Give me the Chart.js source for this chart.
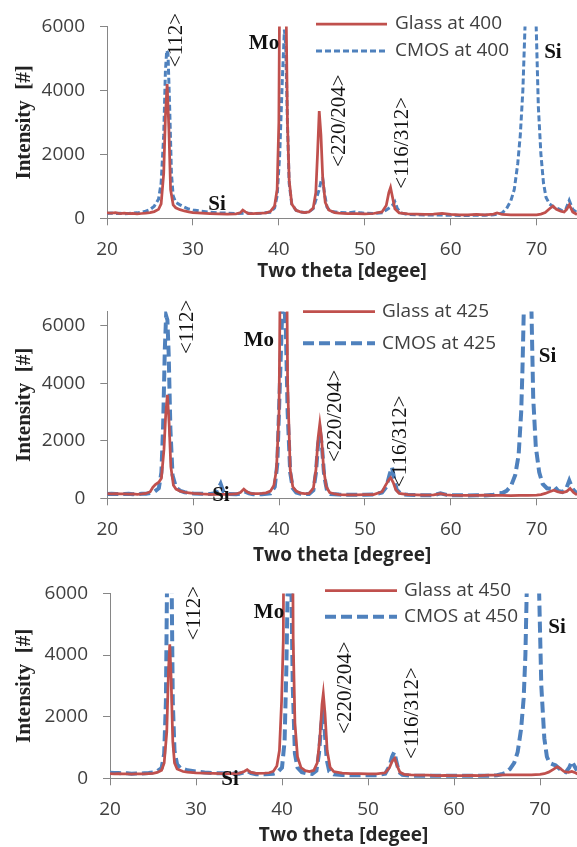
<!DOCTYPE html>
<html><head><meta charset="utf-8">
<script src="https://cdn.jsdelivr.net/npm/chart.js@4/dist/chart.umd.min.js"></script>
<style>
html,body{margin:0;padding:0;background:#fff;}
body{width:577px;height:847px;position:relative;overflow:hidden;}
canvas{position:absolute;left:0;}
</style></head><body>
<canvas id="c1" width="577" height="285" style="top:0px"></canvas>
<canvas id="c2" width="577" height="282" style="top:285px"></canvas>
<canvas id="c3" width="577" height="280" style="top:567px"></canvas>
<script>
// ---------------- DATA ----------------
// Panel 1 (400)
const glass400X = [20,20.5,21,21.5,22,22.5,23,23.5,24,24.5,25,25.5,26,26.3,26.6,26.8,27.0,27.2,27.4,27.7,28,28.5,29,29.5,30,31,32,33,34,35,35.5,35.8,36.1,36.5,37,38,38.5,39,39.5,39.8,40.0,40.2,40.5,40.7,40.85,41.0,41.2,41.5,42,42.5,43,43.5,44,44.3,44.5,44.7,44.9,45.1,45.4,45.8,46.5,47,48,49,50,51,52,52.5,52.8,53.0,53.2,53.5,54,55,56,57,58,59,60,61,62,63,64,65,65.4,66,67,68,69,70,70.5,71,71.5,71.9,72.3,72.8,73.2,73.5,73.8,74.2,74.7];
const glass400Y = [170,160,175,150,160,145,155,140,150,160,180,210,280,450,1400,3200,4200,2800,900,420,330,270,230,200,180,165,150,140,130,140,170,260,200,150,150,160,170,210,380,900,3000,12000,25000,12000,6500,3000,1200,450,250,200,180,200,320,800,2000,3350,2600,1300,500,260,180,160,150,150,140,150,200,400,800,960,700,300,170,140,130,120,130,150,120,110,110,120,110,130,170,120,110,110,110,110,130,180,300,380,280,220,200,280,420,200,120];
const cmos400X = [20,20.5,21,21.5,22,22.5,23,23.5,24,24.5,25,25.5,26,26.3,26.6,26.8,26.95,27.1,27.3,27.5,27.7,28,28.5,29,29.5,30,31,32,33,34,35,36,37,38,39,39.5,39.8,40.1,40.4,40.65,40.8,41.0,41.2,41.5,42,42.5,43,43.5,44,44.4,44.7,44.9,45.1,45.3,45.6,46,47,48,48.8,49.5,50,51,52,52.5,52.9,53.2,53.5,53.8,54.2,55,56,57,58,59,60,61,62,63,64,65,65.5,66,66.5,67,67.4,67.8,68.1,68.4,68.65,69.3,69.95,70.2,70.5,70.8,71.1,71.5,72,72.5,73,73.4,73.8,74.2,74.7];
const cmos400Y = [150,165,150,160,140,150,160,170,190,220,270,380,600,1100,2600,4600,5250,5150,3400,1400,700,500,420,350,290,260,220,190,170,160,150,160,150,160,190,320,700,2000,4300,5900,5400,3000,1100,450,250,200,180,200,300,650,900,1150,1250,800,350,220,180,170,200,170,160,150,170,260,330,400,520,300,170,120,110,100,100,100,95,90,90,95,95,110,130,170,300,550,900,1700,2600,4000,6000,40000,6000,3500,2000,1100,650,450,350,300,230,280,560,280,180];

// Panel 2 (425)
const glass425X = [20,20.5,21,21.5,22,22.5,23,23.5,24,24.5,25,25.3,25.6,26.0,26.3,26.6,26.8,27.0,27.2,27.4,27.7,28,28.5,29,29.5,30,31,32,33,34,35,35.5,35.9,36.3,36.8,37.5,38,38.5,39,39.4,39.7,40.0,40.2,40.5,40.8,41.0,41.3,41.6,42,42.5,43,43.5,44,44.3,44.55,44.75,44.95,45.2,45.5,45.9,46.5,47,48,49,50,51,52,52.4,52.8,53.0,53.3,53.6,54,55,56,57,58,58.8,59.5,60,61,62,63,64,65,66,67,68,69,70,70.5,71,71.5,72,72.5,73,73.5,73.9,74.3,74.7];
const glass425Y = [160,150,165,150,155,145,150,140,150,170,230,380,480,560,700,1700,2900,3600,2600,1100,450,320,250,210,190,170,150,140,135,140,150,200,320,220,160,160,170,190,250,450,1000,3000,10000,25000,12000,4000,1000,400,250,180,160,170,350,1000,2100,2600,2100,1000,400,200,150,130,120,120,125,130,230,450,650,720,550,300,170,130,120,110,120,160,120,110,100,105,100,110,100,100,95,100,100,110,130,170,230,280,220,200,240,340,200,120];
const cmos425X = [20,20.5,21,21.5,22,22.5,23,23.5,24,24.5,25,25.5,26,26.3,26.5,26.7,26.85,27.0,27.15,27.35,27.6,28,28.5,29,29.5,30,31,32,32.6,33.0,33.2,33.5,34,35,35.5,36,36.5,37,38,39,39.5,39.8,40.1,40.35,40.55,40.8,41.0,41.3,41.6,42,42.5,43,43.5,44,44.3,44.55,44.8,45.0,45.25,45.6,46,47,48,49,50,51,52,52.5,52.9,53.15,53.4,53.7,54.2,55,56,57,58,58.8,59.5,60,61,62,63,64,65,65.5,66,66.5,67,67.5,67.9,68.2,68.35,68.5,68.95,69.4,69.6,69.9,70.3,70.7,71.2,71.7,72.1,72.5,73,73.4,73.8,74.2,74.7];
const cmos425Y = [150,160,150,155,150,160,145,150,155,160,180,230,350,900,2500,5200,6350,6200,5000,2400,800,380,260,210,190,170,160,150,180,380,500,250,150,140,160,240,170,140,140,170,400,1200,4000,6300,7000,5800,3000,900,350,200,160,150,150,280,900,1900,2250,1800,800,250,150,130,120,120,120,130,200,400,850,1080,700,300,150,120,110,110,110,170,120,110,110,100,110,100,120,190,180,260,420,800,1500,3000,4500,6500,50000,6500,3500,1800,900,500,350,330,400,260,220,300,620,320,160];

// Panel 3 (450)
const glass450X = [20,20.5,21,21.5,22,22.5,23,23.5,24,24.5,25,25.5,26,26.3,26.6,26.8,26.95,27.1,27.3,27.5,27.8,28.5,29,30,31,32,33,34,35,35.6,35.95,36.3,37,38,38.5,39,39.4,39.7,39.95,40.15,40.3,41.1,41.3,41.5,41.8,42.2,42.7,43.2,43.7,44.1,44.4,44.65,44.8,45.0,45.25,45.6,46,47,48,49,50,51,52,52.5,52.8,53.1,53.4,53.7,54.2,55,56,57,58,59,60,61,62,63,64,65,66,67,68,69,70,70.5,71,71.5,72.0,72.3,72.8,73.3,73.7,74.1,74.5];
const glass450Y = [150,140,150,140,145,135,140,145,140,150,160,190,260,500,1500,3500,4350,3300,1200,500,300,220,200,180,170,160,150,150,160,220,280,200,160,170,180,230,400,900,2500,4500,15000,15000,4500,1800,700,350,250,220,260,500,1300,2400,2750,2100,900,350,220,170,150,150,140,140,180,350,550,650,400,200,130,110,100,100,90,95,90,90,95,90,100,100,110,110,110,110,130,150,200,280,370,330,220,190,220,180,120];
const cmos450X = [20,20.5,21,21.5,22,22.5,23,23.5,24,24.5,25,25.5,26,26.3,26.5,26.62,26.9,27.18,27.3,27.5,27.8,28.2,29,30,31,32,33,34,35,35.6,36.0,36.4,37,38,39,39.5,40,40.3,40.5,40.65,40.85,41.05,41.25,41.5,41.8,42.3,43,43.5,44,44.3,44.55,44.75,44.95,45.2,45.5,46,47,48,49,50,51,52,52.5,52.8,53.05,53.3,53.6,54,55,56,57,58,59,60,61,62,63,64,65,65.5,66,66.5,67,67.4,67.8,68.1,68.3,68.45,69.2,69.9,70.15,70.5,70.8,71.1,71.5,71.8,72.1,72.5,73,73.4,73.7,74.0,74.3];
const cmos450Y = [180,170,175,160,165,150,155,150,160,170,190,230,330,800,2500,6000,30000,6000,2500,900,450,330,260,220,190,170,160,155,150,190,230,170,130,130,150,200,350,1200,3500,6000,7000,7000,3000,800,350,200,150,140,250,800,1700,2100,1600,600,220,130,110,100,100,95,100,150,400,700,850,550,200,110,90,80,85,80,80,80,80,80,85,80,100,130,180,300,500,850,1600,2600,4000,6000,60000,6000,3000,1300,700,500,450,420,350,250,200,350,550,400,250];

// Tick / label texts
const xTicks = [20,30,40,50,60,70];
const yTicks = [0,2000,4000,6000];
const legend400 = ['Glass at 400','CMOS at 400'];
const legend425 = ['Glass at 425','CMOS at 425'];
const legend450 = ['Glass at 450','CMOS at 450'];
const xTitles = ['Two theta [degee]','Two theta [degree]','Two theta [degee]'];
const yTitle = 'Intensity  [#]';

// Annotations: text, 2θ, intensity, style
const annText = ['<112>','Mo','Si','<220/204>','<116/312>','Si'];
const annStyle = ['rot','bold','bold','rot','rot','bold'];
const ann400X = [28.07,38.27,32.8,47.11,54.4,71.9];
const ann400Y = [5575,5454,442,3052,2360,5169];
const ann425X = [29.33,37.65,33.23,46.6,54.17,71.27];
const ann425Y = [5962,5486,112,2867,1983,4942];
const ann450X = [29.88,38.49,33.95,47.4,55.12,71.98];
const ann450Y = [5363,5363,-54,2941,2116,4885];

// ---------------- STYLE ----------------
const RED = '#c0504d', BLUE = '#4f81bd', AXIS = '#868686';
const TICKFONT = {family:'"Open Sans"', size:19};
const pts = (xs, ys) => xs.map((x,i)=>({x:x, y:ys[i]}));

const legendPlugin = {
  id:'inlegend',
  afterDatasetsDraw(chart, args, opts){
    const ctx = chart.ctx;
    ctx.save();
    chart.data.datasets.forEach((ds,i)=>{
      const y = opts.ys[i];
      ctx.beginPath();
      ctx.strokeStyle = ds.borderColor;
      ctx.lineWidth = ds.borderWidth;
      ctx.setLineDash(ds.borderDash || []);
      ctx.moveTo(opts.x1, y); ctx.lineTo(opts.x2, y); ctx.stroke();
      ctx.setLineDash([]);
      ctx.fillStyle = '#404040';
      ctx.font = '19px "Open Sans"';
      ctx.textBaseline = 'middle';
      ctx.textAlign = 'left';
      ctx.fillText(ds.label, opts.tx, y);
    });
    ctx.restore();
  }
};
const annPlugin = {
  id:'xrdann',
  afterDatasetsDraw(chart, args, opts){
    const ctx = chart.ctx, xs = chart.scales.x, ys = chart.scales.y;
    ctx.save();
    ctx.fillStyle = '#111';
    opts.text.forEach((t,i)=>{
      const px = xs.getPixelForValue(opts.xv[i]);
      const py = ys.getPixelForValue(opts.yv[i]);
      ctx.save();
      ctx.translate(px, py);
      ctx.textAlign = 'center'; ctx.textBaseline = 'middle';
      if (opts.style[i] === 'rot') {
        ctx.rotate(-Math.PI/2);
        ctx.font = '21px "Liberation Serif"';
      } else {
        ctx.font = 'bold 21px "Liberation Serif"';
      }
      ctx.fillText(t, 0, 0);
      ctx.restore();
    });
    ctx.restore();
  }
};

function makePanel(id, p){
  new Chart(document.getElementById(id), {
    type:'line',
    data:{datasets:[
      {label:p.legend[0], data:pts(p.gx,p.gy), borderColor:RED, backgroundColor:RED, borderWidth:p.rw, pointRadius:0, tension:0, fill:false},
      {label:p.legend[1], data:pts(p.cx,p.cy), borderColor:BLUE, backgroundColor:BLUE, borderWidth:p.bw, borderDash:p.dash, pointRadius:0, tension:0, fill:false}
    ]},
    options:{
      responsive:false, animation:false, events:[],
      layout:{padding:{top:p.top, left:0, right:0, bottom:0}},
      plugins:{legend:{display:false}, tooltip:{enabled:false},
        inlegend:{x1:p.lx1, x2:p.lx2, tx:p.ltx, ys:p.lys},
        xrdann:{text:annText, style:annStyle, xv:p.ax, yv:p.ay}},
      scales:{
        x:{type:'linear', min:20, max:p.xmax,
          afterFit(s){ s.height = p.h - p.bottom; },
          afterBuildTicks(s){ s.ticks = xTicks.map(v=>({value:v})); },
          ticks:{font:TICKFONT, color:'#404040', padding:13, maxRotation:0, autoSkip:false, callback:(v)=>String(v)},
          grid:{drawOnChartArea:false, drawTicks:true, tickLength:7, color:AXIS},
          border:{color:AXIS, width:1},
          title:{display:true, text:p.xtitle, color:'#262626', font:{family:'"Open Sans"', size:19, weight:'bold'}, padding:{top:0,bottom:p.xtpad}}
        },
        y:{type:'linear', min:0, max:p.ymax,
          afterFit(s){ s.width = p.left; },
          afterBuildTicks(s){ s.ticks = yTicks.map(v=>({value:v})); },
          ticks:{font:TICKFONT, color:'#404040', padding:15, callback:(v)=>String(v)},
          grid:{drawOnChartArea:false, drawTicks:true, tickLength:7, color:AXIS},
          border:{color:AXIS, width:1},
          title:{display:true, text:yTitle, color:'#222', font:{family:'"Liberation Serif"', size:21, weight:'bold'}, padding:{top:12, bottom:0}}
        }
      }
    },
    plugins:[legendPlugin, annPlugin]
  });
}

makePanel('c1', {gx:glass400X, gy:glass400Y, cx:cmos400X, cy:cmos400Y, legend:legend400,
  rw:2.75, bw:3, dash:[6,3], top:24.3, bottom:218.3, h:285, left:107, ymax:6000, xmax:74.7,
  xtitle:xTitles[0], xtpad:2, lx1:316, lx2:387, ltx:395, lys:[24,51], ax:ann400X, ay:ann400Y});
makePanel('c2', {gx:glass425X, gy:glass425Y, cx:cmos425X, cy:cmos425Y, legend:legend425,
  rw:2.75, bw:4, dash:[11,5], top:22.3, bottom:213.3, h:282, left:107.3, ymax:6500, xmax:74.7,
  xtitle:xTitles[1], xtpad:0, lx1:303, lx2:375, ltx:382, lys:[26.7,58.3], ax:ann425X, ay:ann425Y});
makePanel('c3', {gx:glass450X, gy:glass450Y, cx:cmos450X, cy:cmos450Y, legend:legend450,
  rw:2.75, bw:4, dash:[11,5], top:23, bottom:211.3, h:280, left:110, ymax:6000, xmax:74.3,
  xtitle:xTitles[2], xtpad:0, lx1:325, lx2:397, ltx:404, lys:[23.7,49.7], ax:ann450X, ay:ann450Y});
</script>
</body></html>
